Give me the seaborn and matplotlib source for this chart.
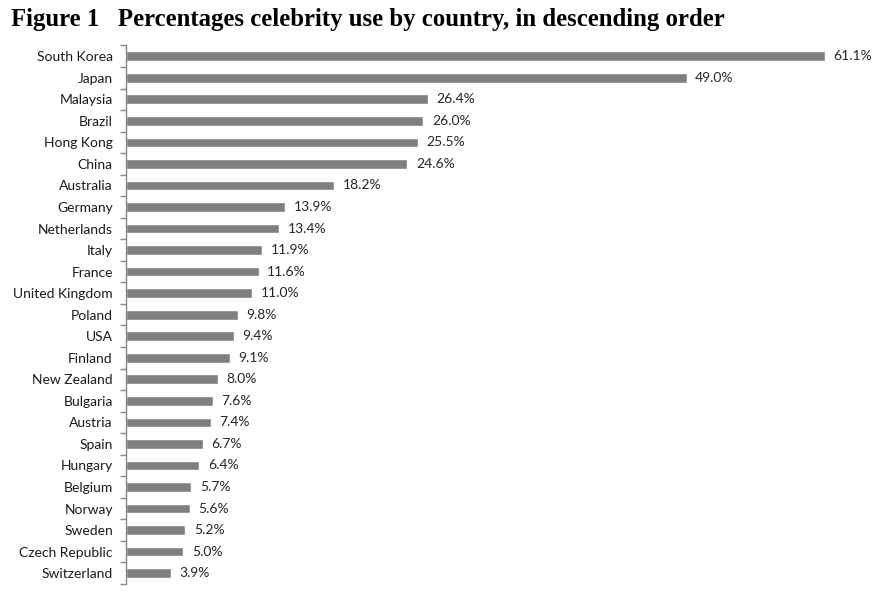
import numpy as np
import pandas as pd
import matplotlib
matplotlib.use("Agg")
import matplotlib.pyplot as plt
import seaborn as sns

countries = ["South Korea", "Japan", "Malaysia", "Brazil", "Hong Kong", "China",
             "Australia", "Germany", "Netherlands", "Italy", "France",
             "United Kingdom", "Poland", "USA", "Finland", "New Zealand",
             "Bulgaria", "Austria", "Spain", "Hungary", "Belgium", "Norway",
             "Sweden", "Czech Republic", "Switzerland"]
pct = [61.1, 49.0, 26.4, 26.0, 25.5, 24.6, 18.2, 13.9, 13.4, 11.9, 11.6,
       11.0, 9.8, 9.4, 9.1, 8.0, 7.6, 7.4, 6.7, 6.4, 5.7, 5.6, 5.2, 5.0, 3.9]

df = pd.DataFrame({"Country": countries, "Pct": pct})

sns.set_style("white")
plt.rcParams['font.family'] = ['Lato', 'DejaVu Sans']

fig = plt.figure(figsize=(8.83, 5.94), dpi=100)
ax = fig.add_axes([0.1427, 0.017, 0.855, 0.9065])

sns.barplot(data=df, x="Pct", y="Country", orient="h", color="#7f7f7f",
            saturation=1, width=0.45, ax=ax)

for i, v in enumerate(pct):
    ax.text(v + 0.75, i, f"{v:.1f}%", va="center", ha="left",
            fontsize=10, color="#262626")

ax.set_xlim(0, 66)
ax.set_ylim(len(countries) - 0.5, -0.5)
ax.set_xlabel("")
ax.set_ylabel("")
ax.set_xticks([])
for s in ["top", "right", "bottom"]:
    ax.spines[s].set_visible(False)
ax.spines["left"].set_color("#868686")
ax.spines["left"].set_linewidth(1.0)

ax.tick_params(axis="y", which="major", left=False, length=0, pad=9.5,
               labelsize=10, labelcolor="#1a1a1a")
ax.set_yticks(np.arange(-0.5, len(countries), 1.0), minor=True)
ax.tick_params(axis="y", which="minor", left=True, length=4, color="#868686",
               width=1.0, direction="out")

fig.text(0.013, 0.968, "Figure 1   Percentages celebrity use by country, in descending order",
         fontsize=17.8, fontweight="bold", family="Liberation Serif",
         color="black", va="center", ha="left")

fig.savefig("out.png", dpi=100)
